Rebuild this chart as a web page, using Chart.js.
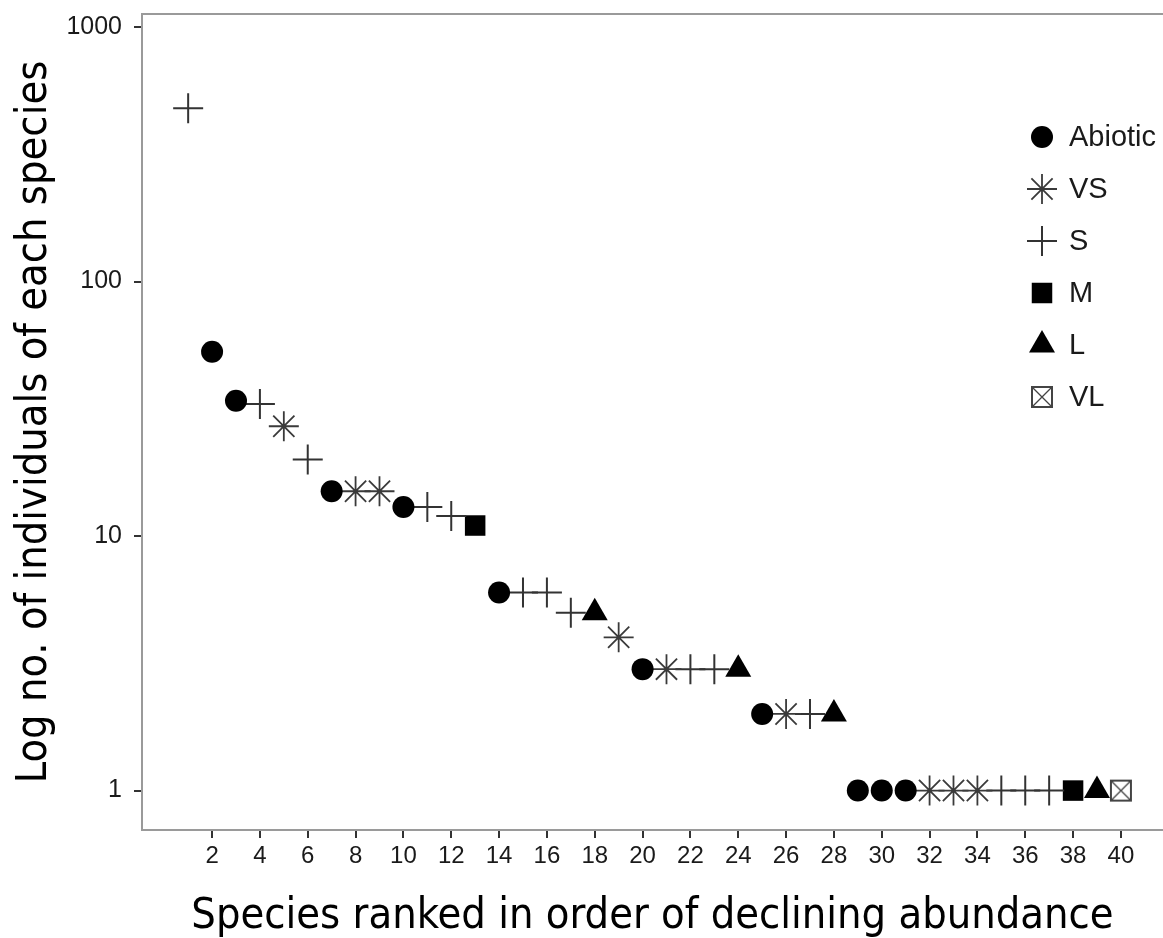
<!DOCTYPE html>
<html>
<head>
<meta charset="utf-8">
<script src="https://cdn.jsdelivr.net/npm/chart.js@4.4.1/dist/chart.umd.min.js"></script>
<style>
	html, body { margin: 0; padding: 0; background: #fff; overflow: hidden; }
	#wrap { width: 1163px; height: 938px; }
</style>
</head>
<body>
<div id="wrap"><canvas id="rankChart" width="1163" height="938"></canvas></div>
<script>
// species rank, abundance and size group
const ranks = [1, 2, 3, 4, 5, 6, 7, 8, 9, 10,
	11, 12, 13, 14, 15, 16, 17, 18, 19, 20,
	21, 22, 23, 24, 25, 26, 27, 28, 29, 30,
	31, 32, 33, 34, 35, 36, 37, 38, 39, 40];
const counts = [480, 53, 34, 33, 27, 20, 15, 15, 15, 13,
	13, 12, 11, 6, 6, 6, 5, 5, 4, 3,
	3, 3, 3, 3, 2, 2, 2, 2, 1, 1,
	1, 1, 1, 1, 1, 1, 1, 1, 1, 1];
const groups = ['S', 'Abiotic', 'Abiotic', 'S', 'VS', 'S', 'Abiotic', 'VS', 'VS', 'Abiotic',
	'S', 'S', 'M', 'Abiotic', 'S', 'S', 'S', 'L', 'VS', 'Abiotic',
	'VS', 'S', 'S', 'L', 'Abiotic', 'VS', 'S', 'L', 'Abiotic', 'Abiotic',
	'Abiotic', 'VS', 'VS', 'VS', 'S', 'S', 'S', 'M', 'L', 'VL'];
const groupNames = ['Abiotic', 'VS', 'S', 'M', 'L', 'VL'];
const xTicks = [2, 4, 6, 8, 10, 12, 14, 16, 18, 20, 22, 24, 26, 28, 30, 32, 34, 36, 38, 40];
const yTicks = [1, 10, 100, 1000];

const tickFont = "'Liberation Sans', Arial, sans-serif";
const titleFont = "'DejaVu Sans Condensed', 'DejaVu Sans', sans-serif";

// boxed cross marker for VL (ggplot shape 7)
function boxCross() {
	var c = document.createElement('canvas');
	c.width = 24; c.height = 24;
	var g = c.getContext('2d');
	g.strokeStyle = '#444';
	g.lineWidth = 2;
	g.strokeRect(2, 2, 20, 20);
	g.lineWidth = 1.3;
	g.beginPath();
	g.moveTo(3, 3); g.lineTo(21, 21);
	g.moveTo(21, 3); g.lineTo(3, 21);
	g.stroke();
	return c;
}

const markerStyles = {
	'Abiotic': { pointStyle: 'circle', radius: 11, fill: '#000', stroke: '#000', width: 0 },
	'VS': { pointStyle: 'star', radius: 15, fill: '#333', stroke: '#3a3a3a', width: 1.8 },
	'S': { pointStyle: 'cross', radius: 15, fill: '#333', stroke: '#333', width: 2 },
	'M': { pointStyle: 'rect', radius: 14.5, fill: '#000', stroke: '#000', width: 0 },
	'L': { pointStyle: 'triangle', radius: 15, fill: '#000', stroke: '#000', width: 0 },
	'VL': { pointStyle: boxCross(), radius: 12, fill: '#444', stroke: '#444', width: 0 }
};

const datasets = groupNames.map(function (name) {
	var pts = [];
	for (var i = 0; i < ranks.length; i++) {
		if (groups[i] == name) pts.push({ x: ranks[i], y: counts[i] });
	}
	var st = markerStyles[name];
	return {
		label: name,
		data: pts,
		pointStyle: st.pointStyle,
		pointRadius: st.radius,
		pointBackgroundColor: st.fill,
		pointBorderColor: st.stroke,
		pointBorderWidth: st.width,
		showLine: false
	};
});

// grey panel border (right side runs off the picture)
const panelBorder = {
	id: 'panelBorder',
	afterDatasetsDraw(chart) {
		const a = chart.chartArea, ctx = chart.ctx;
		ctx.save();
		ctx.strokeStyle = '#9a9a9a';
		ctx.lineWidth = 2;
		ctx.beginPath();
		ctx.moveTo(a.right + 5, a.top);
		ctx.lineTo(a.left, a.top);
		ctx.lineTo(a.left, a.bottom);
		ctx.lineTo(a.right + 5, a.bottom);
		ctx.stroke();
		ctx.restore();
	}
};

// legend inside the panel, top right
const insideLegend = {
	id: 'insideLegend',
	afterDraw(chart) {
		const ctx = chart.ctx;
		const x0 = 1042, y0 = 137, step = 52;
		ctx.save();
		ctx.font = "29px " + tickFont;
		ctx.textBaseline = 'middle';
		groupNames.forEach(function (name, i) {
			var st = markerStyles[name];
			var y = y0 + i * step;
			ctx.fillStyle = st.fill;
			ctx.strokeStyle = st.stroke;
			ctx.lineWidth = st.width;
			Chart.helpers.drawPoint(ctx, {
				pointStyle: st.pointStyle, radius: st.radius, rotation: 0, borderWidth: st.width
			}, x0, y);
			ctx.fillStyle = '#1a1a1a';
			ctx.fillText(name, x0 + 27, y + 1);
		});
		ctx.restore();
	}
};

// keep label overflow from pushing the panel in
function noPad(scale) {
	scale.paddingTop = 0; scale.paddingBottom = 0;
	scale.paddingLeft = 0; scale.paddingRight = 0;
}

new Chart(document.getElementById('rankChart'), {
	type: 'scatter',
	data: { datasets: datasets },
	options: {
		responsive: false,
		animation: false,
		events: [],
		layout: { autoPadding: false, padding: { top: 14, right: 0, left: 0, bottom: 0 } },
		plugins: { legend: { display: false }, tooltip: { enabled: false } },
		scales: {
			x: {
				type: 'linear',
				min: -0.93,
				max: 41.76,
				afterBuildTicks: function (scale) {
					scale.ticks = xTicks.map(v => ({ value: v }));
				},
				afterFit: function (scale) { scale.height = 108; noPad(scale); },
				grid: { drawOnChartArea: false, drawTicks: true, tickLength: 8, color: '#333', lineWidth: 2 },
				border: { display: false },
				ticks: {
					color: '#1a1a1a', padding: 4, maxRotation: 0, autoSkip: false,
					font: { family: tickFont, size: 24 }
				},
				title: {
					display: true,
					text: 'Species ranked in order of declining abundance',
					color: '#000',
					font: { family: titleFont, size: 43, lineHeight: 1 },
					padding: { top: 0, bottom: 0 }
				}
			},
			y: {
				type: 'logarithmic',
				min: 0.72,
				max: 1125,
				afterBuildTicks: function (scale) {
					scale.ticks = yTicks.map(v => ({ value: v }));
				},
				afterFit: function (scale) { scale.width = 142; noPad(scale); },
				grid: { drawOnChartArea: false, drawTicks: true, tickLength: 8, color: '#333', lineWidth: 2 },
				border: { display: false },
				ticks: {
					color: '#1a1a1a', padding: 12, autoSkip: false,
					font: { family: tickFont, size: 25 },
					callback: function (v) { return String(v); }
				},
				title: {
					display: true,
					text: 'Log no. of individuals of each species',
					color: '#000',
					font: { family: titleFont, size: 43, lineHeight: 1 },
					padding: { top: 13, bottom: 0 }
				}
			}
		}
	},
	plugins: [panelBorder, insideLegend]
});
</script>
</body>
</html>
